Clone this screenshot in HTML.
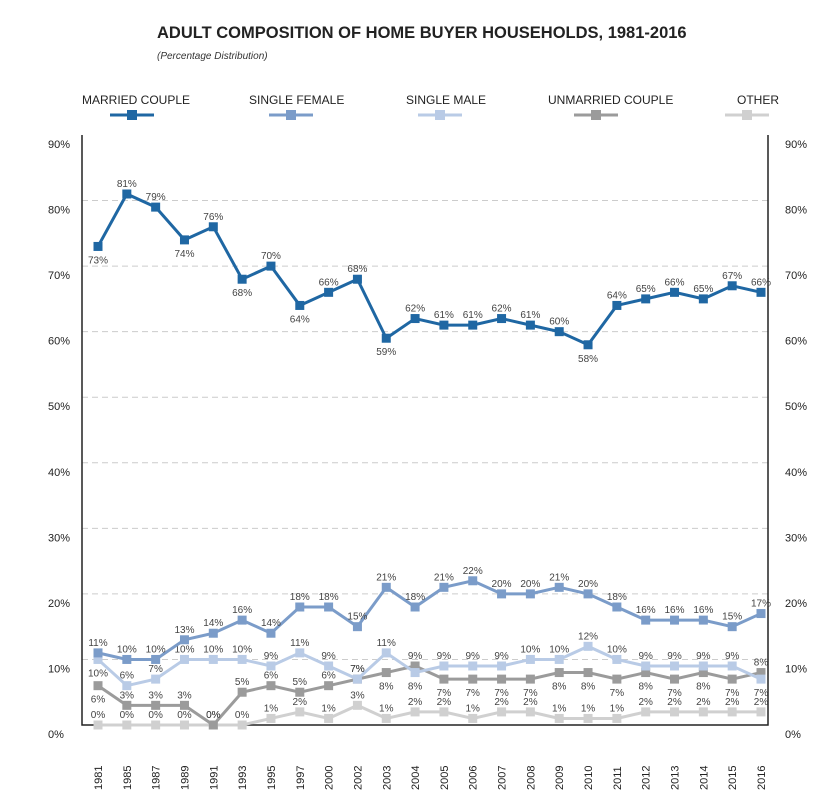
<!DOCTYPE html>
<html><head><meta charset="utf-8"><style>
body{margin:0;background:#fff;width:836px;height:806px;overflow:hidden;font-family:"Liberation Sans",sans-serif}
</style></head><body>
<svg id="chart" width="836" height="806" xmlns="http://www.w3.org/2000/svg">
<text x="157" y="38" font-size="16.5" font-weight="bold" fill="#222">ADULT COMPOSITION OF HOME BUYER HOUSEHOLDS, 1981-2016</text>
<text x="157" y="59" font-size="10" font-style="italic" fill="#333">(Percentage Distribution)</text>
<g id="legend"></g>
<g id="grid"></g><g id="plot"></g>
</svg>
<script>
const categories=["1981","1985","1987","1989","1991","1993","1995","1997","2000","2002","2003","2004","2005","2006","2007","2008","2009","2010","2011","2012","2013","2014","2015","2016"];
const married=[73,81,79,74,76,68,70,64,66,68,59,62,61,61,62,61,60,58,64,65,66,65,67,66];
const singleFemale=[11,10,10,13,14,16,14,18,18,15,21,18,21,22,20,20,21,20,18,16,16,16,15,17];
const singleMale=[10,6,7,10,10,10,9,11,9,7,11,8,9,9,9,10,10,12,10,9,9,9,9,7];
const unmarried=[6,3,3,3,0,5,6,5,6,7,8,9,7,7,7,7,8,8,7,8,7,8,7,8];
const other=[0,0,0,0,0,0,1,2,1,3,1,2,2,1,2,2,1,1,1,2,2,2,2,2];
const yTicks=[0,10,20,30,40,50,60,70,80,90];
const marriedPos="baabababaabaaaaaabaaaaaa";
const malePos="baaaaaaaaaabaaaaaaaaaaab";
const unmPos="baaaaaaaaababbbbbbbbbbba";
const NS="http://www.w3.org/2000/svg";
const L=82,R=768,T=135,B=725;
const x=i=>98+i*(761-98)/(categories.length-1);
const y=v=>B-v*(B-T)/90;
function mk(tag,attrs,parent){const e=document.createElementNS(NS,tag);for(const k in attrs)e.setAttribute(k,attrs[k]);parent.appendChild(e);return e;}
const svg=document.getElementById('chart'),grid=document.getElementById('grid'),plot=document.getElementById('plot'),leg=document.getElementById('legend');
yTicks.forEach(t=>{
  if(t>0&&t<90){const g=mk('line',{x1:L,x2:R,y1:y(t),y2:y(t),stroke:'#ccc','stroke-dasharray':'6,4'},grid);
  
  }
  const a=mk('text',{x:48,y:y(t)+13,'font-size':11,fill:'#222'},grid);a.textContent=t+'%';
  
  
  const b=mk('text',{x:785,y:y(t)+13,'font-size':11,fill:'#222'},grid);b.textContent=t+'%';
  
  
});
const frame=mk('path',{d:`M${L},${T} V${B} H${R} V${T}`,fill:'none',stroke:'#222','stroke-width':1.5},grid);


categories.forEach((c,i)=>{const t=mk('text',{transform:`translate(${x(i)+4},790) rotate(-90)`,'font-size':11,fill:'#222'},grid);t.textContent=c;

});
const series=[
 {name:'other',label:'OTHER',data:other,color:'#d0d0d0',pos:null,lx:737},
 {name:'unmarried-couple',label:'UNMARRIED COUPLE',data:unmarried,color:'#9b9b9b',pos:unmPos,lx:548},
 {name:'single-male',label:'SINGLE MALE',data:singleMale,color:'#b9cbe6',pos:malePos,lx:406},
 {name:'single-female',label:'SINGLE FEMALE',data:singleFemale,color:'#7b9cc9',pos:null,lx:249},
 {name:'married-couple',label:'MARRIED COUPLE',data:married,color:'#1f67a3',pos:marriedPos,lx:82}
];
series.forEach(s=>{
  const g=mk('g',{},plot);
  
  
  const p=mk('polyline',{points:s.data.map((v,i)=>x(i)+','+y(v)).join(' '),fill:'none',stroke:s.color,'stroke-width':3},g);
  
  
  s.data.forEach((v,i)=>{
    const r=mk('rect',{x:x(i)-4.5,y:y(v)-4.5,width:9,height:9,fill:s.color},g);
    
    
    const below=s.pos&&s.pos[i]==='b';
    const t=mk('text',{x:x(i),y:below?y(v)+17:y(v)-7,'font-size':10,fill:'#444','text-anchor':'middle'},g);
    t.textContent=v+'%';
    
    
  });
  const lt=mk('text',{x:s.lx,y:104,'font-size':12,fill:'#222'},leg);lt.textContent=s.label;
  
  
  const cx=s.lx+(s.name==='other'?10:s.name==='single-male'?34:s.name==='unmarried-couple'?48:s.name==='single-female'?42:50);
  const ll=mk('line',{x1:cx-22,x2:cx+22,y1:115,y2:115,stroke:s.color,'stroke-width':3},leg);
  
  
  const lr=mk('rect',{x:cx-5,y:110,width:10,height:10,fill:s.color},leg);
  
  
});
</script>
</body></html>
